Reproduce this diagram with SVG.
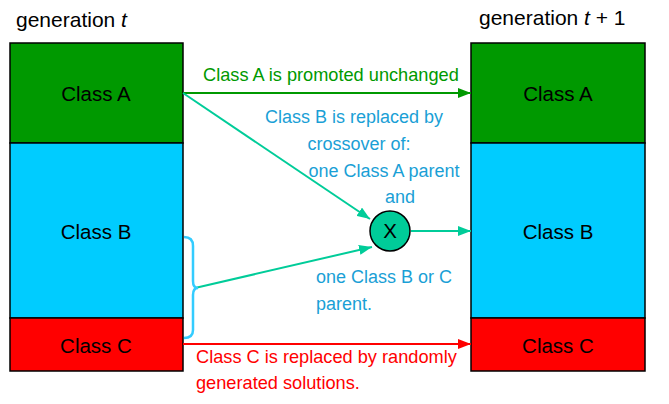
<svg xmlns="http://www.w3.org/2000/svg" width="669" height="404" viewBox="0 0 669 404">
<style>
text{font-family:"Liberation Sans","DejaVu Sans",sans-serif}
.t{font-size:21px;fill:#000}
.lbl{font-size:20.5px;fill:#000;text-anchor:middle}
.box{stroke:#000;stroke-width:1.5}
.g{fill:#009900}.b{fill:#00ccff}.r{fill:#ff0000}
.gt{font-size:18.2px;fill:#009900}
.bt{font-size:18px;fill:#1a9fd6}
.rt{font-size:18.2px;fill:#ff0000}
</style>
<defs>
<marker id="ag" markerWidth="13" markerHeight="10" refX="13" refY="5" orient="auto" markerUnits="userSpaceOnUse"><path d="M0,0L13,5L0,10z" fill="#009900"/></marker>
<marker id="at" markerWidth="13" markerHeight="10" refX="13" refY="5" orient="auto" markerUnits="userSpaceOnUse"><path d="M0,0L13,5L0,10z" fill="#00cc99"/></marker>
<marker id="ar" markerWidth="13" markerHeight="10" refX="13" refY="5" orient="auto" markerUnits="userSpaceOnUse"><path d="M0,0L13,5L0,10z" fill="#ff0000"/></marker>
</defs>
<text class="t" x="16" y="27">generation <tspan font-style="italic">t</tspan></text>
<text class="t" x="479" y="25">generation <tspan font-style="italic">t</tspan> + 1</text>
<g id="left-A"><rect class="box g" x="10" y="43" width="173" height="100"/><text class="lbl" x="96" y="101">Class A</text></g>
<g id="left-B"><rect class="box b" x="10" y="143" width="173" height="175"/><text class="lbl" x="96" y="239">Class B</text></g>
<g id="left-C"><rect class="box r" x="10" y="318" width="173" height="53"/><text class="lbl" x="96" y="353">Class C</text></g>
<g id="right-A"><rect class="box g" x="471" y="43" width="174" height="100"/><text class="lbl" x="558" y="101">Class A</text></g>
<g id="right-B"><rect class="box b" x="471" y="143" width="174" height="175"/><text class="lbl" x="558" y="239">Class B</text></g>
<g id="right-C"><rect class="box r" x="471" y="318" width="174" height="53"/><text class="lbl" x="558" y="353">Class C</text></g>
<g id="crossover"><circle cx="390" cy="231" r="20" fill="#00cc99" stroke="#000" stroke-width="1.5"/><text class="lbl" x="390" y="238">X</text></g>
<g id="connectors" fill="none" stroke-width="2">
<line x1="183" y1="93" x2="471" y2="93" stroke="#009900" marker-end="url(#ag)"/>
<line x1="183" y1="93" x2="370" y2="219" stroke="#00cc99" marker-end="url(#at)"/>
<line x1="411" y1="231" x2="471" y2="231" stroke="#00cc99" marker-end="url(#at)"/>
<line x1="195" y1="288" x2="372" y2="247" stroke="#00cc99" marker-end="url(#at)"/>
<line x1="183" y1="344" x2="471" y2="344" stroke="#ff0000" marker-end="url(#ar)"/>
<path d="M184,237 Q193,237 193,246 L193,281 Q193,288 198,288 Q193,288 193,295 L193,330 Q193,338 184,338" stroke="#33ccff" stroke-width="2.5"/>
</g>
<text class="gt" x="203" y="81">Class A is promoted unchanged</text>
<text class="bt" text-anchor="middle"><tspan x="354" y="123">Class B is replaced by</tspan><tspan x="359" y="150">crossover of:</tspan><tspan x="384" y="177">one Class A parent</tspan><tspan x="400" y="203">and</tspan></text>
<text class="bt"><tspan x="316" y="283">one Class B or C</tspan><tspan x="316" y="310">parent.</tspan></text>
<text class="rt"><tspan x="196" y="363">Class C is replaced by randomly</tspan><tspan x="196" y="389">generated solutions.</tspan></text>
</svg>
